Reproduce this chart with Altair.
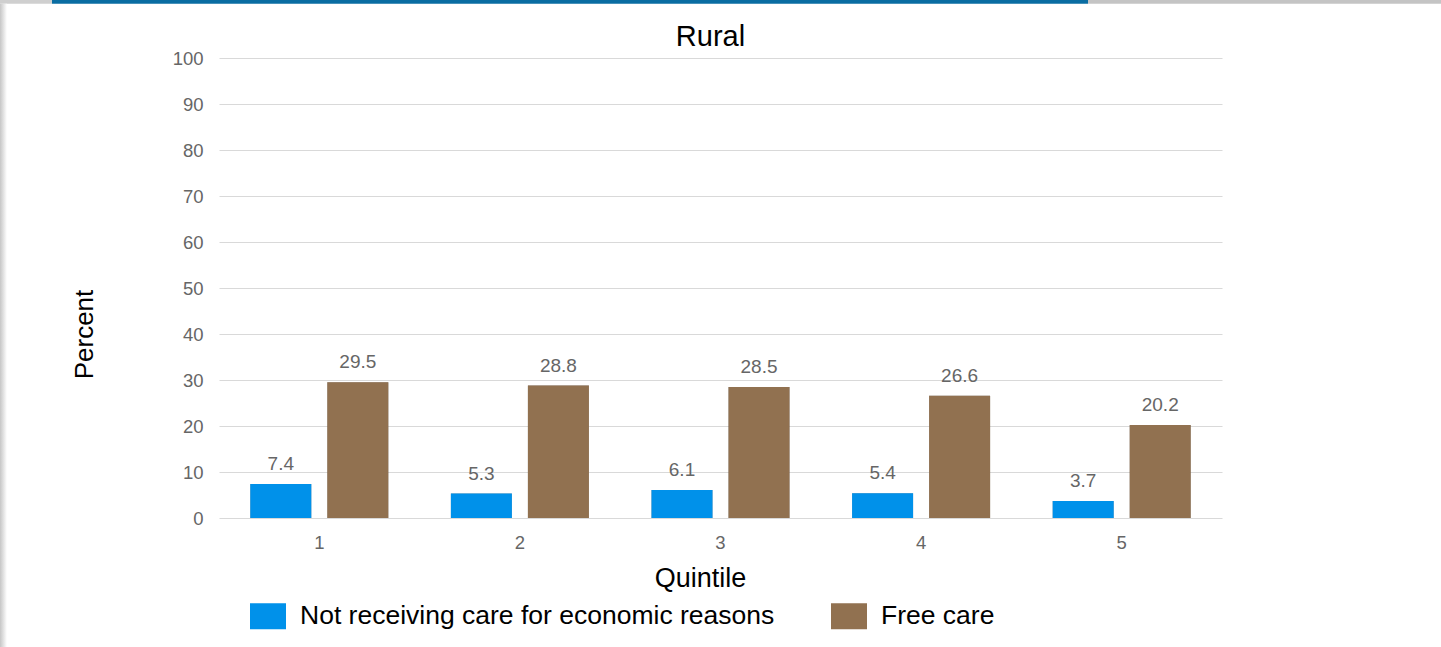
import altair as alt
import pandas as pd

quintiles = ["1", "2", "3", "4", "5"]
series = ["Not receiving care for economic reasons", "Free care"]
not_receiving = [7.4, 5.3, 6.1, 5.4, 3.7]
free_care = [29.5, 28.8, 28.5, 26.6, 20.2]
colors = ["#0091ea", "#917150"]
y_ticks = list(range(0, 101, 10))
chart_title = "Rural"

rows = []
for q, a, b in zip(quintiles, not_receiving, free_care):
    rows.append({"Quintile": q, "Series": series[0], "Percent": a})
    rows.append({"Quintile": q, "Series": series[1], "Percent": b})
df = pd.DataFrame(rows)
one = pd.DataFrame({"title": [chart_title]})

FONT = "Liberation Sans"

x_enc = alt.X(
    "Quintile:N", sort=quintiles,
    scale=alt.Scale(paddingInner=0.312, paddingOuter=0.156),
    axis=alt.Axis(title="Quintile", labelAngle=0, domain=False, ticks=False,
                  labelPadding=15, labelFontSize=18.5, labelColor="#666666",
                  titleFontSize=27, titleFontWeight="normal", titleColor="#000000",
                  titleX=481, titleY=68.7, titleAlign="center", titleBaseline="alphabetic"),
)
xoff = alt.XOffset("Series:N", sort=series,
                   scale=alt.Scale(domain=series, paddingInner=0.208, paddingOuter=0))
y_enc = alt.Y(
    "Percent:Q",
    scale=alt.Scale(domain=[0, 100], nice=False),
    axis=alt.Axis(values=y_ticks, title="Percent", grid=True, gridColor="#d9d9d9",
                  domain=False, ticks=False, labelPadding=16, labelFontSize=18.5,
                  labelColor="#666666", titleFontSize=26, titleFontWeight="normal",
                  titleColor="#000000", titleAngle=270, titleX=-127, titleY=276,
                  titleBaseline="alphabetic", titleAlign="center"),
)
color = alt.Color(
    "Series:N", sort=series,
    scale=alt.Scale(domain=series, range=colors),
    legend=alt.Legend(title=None, orient="none", direction="horizontal",
                      legendX=31, legendY=540,
                      symbolType="M-1,-0.722H1V0.722H-1Z", symbolSize=1296,
                      symbolStrokeWidth=0, symbolOpacity=1, labelFontSize=26.5,
                      labelColor="#000000", labelOffset=14, columnPadding=56,
                      labelLimit=900, padding=0),
)

base = alt.Chart(df)

shadows = [
    base.mark_bar(color="#000000", opacity=op).encode(
        x=x_enc, xOffset=xoff, y=y_enc, y2=alt.value(yv))
    for yv, op in [(461, 0.18), (463, 0.12), (466, 0.07), (469, 0.04)]
]

bars = base.mark_bar(strokeWidth=0).encode(x=x_enc, xOffset=xoff, y=y_enc, color=color)

labels = base.mark_text(dy=-14, baseline="alphabetic", fontSize=19, color="#666666").encode(
    x=x_enc, xOffset=xoff, y=y_enc, text=alt.Text("Percent:Q", format=".1f"))

deco = alt.Chart(one)
title_mark = deco.mark_text(fontSize=29, color="#000000", baseline="alphabetic",
                            align="center").encode(
    x=alt.value(491.5), y=alt.value(-12), text="title:N")
top_blue = deco.mark_rect(color="#0a6da2").encode(
    x=alt.value(-167), x2=alt.value(869), y=alt.value(-58), y2=alt.value(-54.3))
top_grey_r = deco.mark_rect(color="#c4c4c4").encode(
    x=alt.value(869), x2=alt.value(1222), y=alt.value(-58), y2=alt.value(-54.3))
top_grey_l = deco.mark_rect(color="#cfcfcf").encode(
    x=alt.value(-219), x2=alt.value(-167), y=alt.value(-58), y2=alt.value(-54.3))
left_edge = deco.mark_rect(
    fill=alt.LinearGradient(gradient="linear",
                            stops=[alt.GradientStop(color="#c6c6c6", offset=0),
                                   alt.GradientStop(color="#ffffff", offset=1)],
                            x1=0, x2=1, y1=0, y2=0)).encode(
    x=alt.value(-219), x2=alt.value(-212), y=alt.value(-54.3), y2=alt.value(589))

chart = alt.layer(
    top_grey_l, top_blue, top_grey_r, left_edge, title_mark, *shadows, bars, labels
).properties(
    width=1003, height=460,
    autosize=alt.AutoSizeParams(type="none"),
    padding={"left": 219, "top": 58, "right": 219, "bottom": 129},
).configure(font=FONT).configure_view(stroke=None)

chart.save("out.html", embed_options={"renderer": "svg", "actions": False})
